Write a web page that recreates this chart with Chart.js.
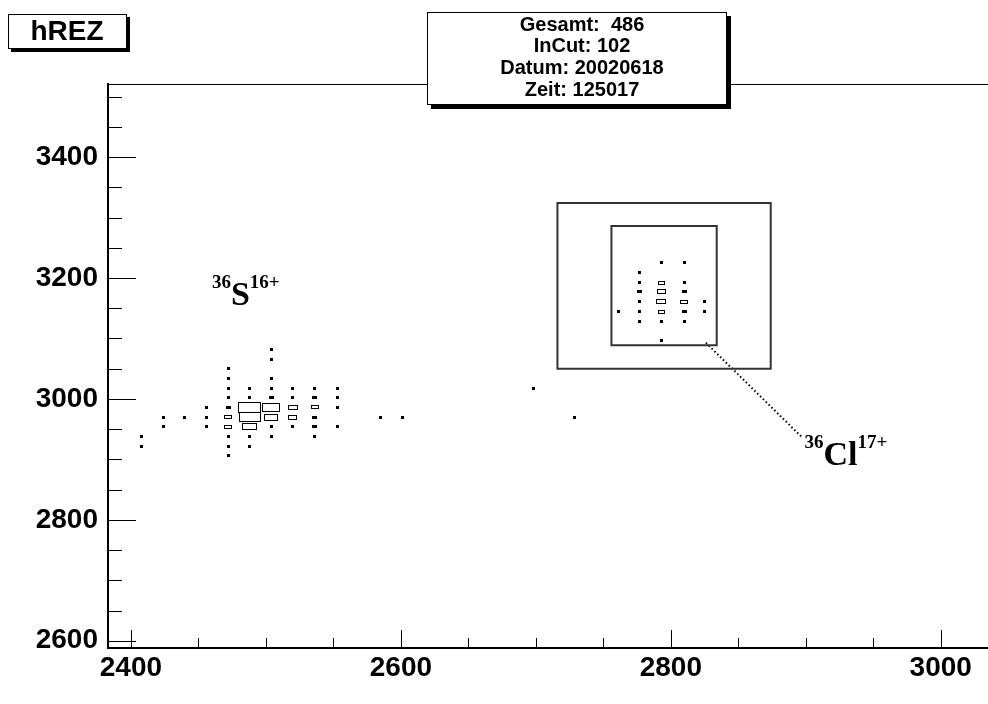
<!DOCTYPE html>
<html>
<head>
<meta charset="utf-8">
<title>hREZ</title>
<script src="https://cdn.jsdelivr.net/npm/chart.js@4.4.1/dist/chart.umd.min.js"></script>
<style>
  html, body { margin: 0; padding: 0; background: #fff; overflow: hidden; }
  canvas { display: block; }
</style>
</head>
<body>
<canvas id="hrez" width="988" height="704"></canvas>
<script>
// Achsen
const xTicks = [2400, 2600, 2800, 3000];
const yTicks = [2600, 2800, 3000, 3200, 3400];

// 36S16+ Cluster (Bin-Mitte x, y, Inhalt)
const sX = [2408, 2408, 2424, 2424, 2440, 2456, 2456, 2456,
  2472, 2472, 2472, 2472, 2472, 2472, 2472, 2472, 2472, 2472,
  2488, 2488, 2488, 2488, 2488, 2488, 2488,
  2504, 2504, 2504, 2504, 2504, 2504, 2504, 2504, 2504,
  2520, 2520, 2520, 2520, 2520,
  2536, 2536, 2536, 2536, 2536, 2536,
  2553, 2553, 2553, 2553];
const sY = [2938, 2922, 2970, 2954, 2970, 2986, 2970, 2954,
  3050, 3034, 3018, 3002, 2986, 2970, 2954, 2938, 2922, 2906,
  3018, 3002, 2986, 2970, 2954, 2938, 2922,
  3082, 3066, 3034, 3018, 3002, 2986, 2970, 2954, 2938,
  3018, 3002, 2986, 2970, 2954,
  3018, 3002, 2986, 2970, 2954, 2938,
  3018, 3002, 2986, 2954];
const sC = [1, 1, 1, 1, 1, 1, 1, 1,
  1, 1, 1, 1, 3, 8, 8, 1, 1, 1,
  1, 1, 80, 72, 35, 1, 1,
  1, 1, 1, 1, 3, 50, 30, 1, 1,
  1, 1, 14, 12, 1,
  1, 3, 8, 3, 3, 1,
  1, 1, 1, 1];

// Einzelereignisse
const strayX = [2585, 2601, 2698, 2729];
const strayY = [2970, 2970, 3018, 2970];
const strayC = [1, 1, 1, 1];

// 36Cl17+ Cluster
const clX = [2793, 2810, 2777, 2777, 2793, 2810, 2777, 2793, 2810,
  2777, 2793, 2810, 2825, 2761, 2777, 2793, 2810, 2825,
  2777, 2793, 2810, 2793];
const clY = [3226, 3226, 3210, 3192, 3192, 3192, 3177, 3177, 3177,
  3161, 3161, 3161, 3161, 3144, 3144, 3144, 3144, 3144,
  3128, 3128, 3128, 3096];
const clC = [1, 1, 1, 1, 6, 1, 3, 11, 3,
  1, 13, 8, 1, 1, 1, 6, 3, 1,
  1, 1, 1, 1];

// Schnitte
const cutOuterX = [2716, 2874];
const cutOuterY = [3050, 3324];
const cutInnerX = [2756, 2834];
const cutInnerY = [3089, 3286];
const leaderX = [2826, 2897];
const leaderY = [3093, 2937];

const statsLines = ['Gesamt:  486', 'InCut: 102', 'Datum: 20020618', 'Zeit: 125017'];

const BIN_W = 16.15;
const BIN_H = 16;
const C_MAX = 80;
const SANS = '"Liberation Sans", Arial, Helvetica, sans-serif';
const SERIF = '"Liberation Serif", "Times New Roman", serif';

function zellen(xs, ys, cs) {
  return xs.map((x, i) => ({ x: x, y: ys[i], c: cs[i] }));
}

function rechteck(xs, ys) {
  return [
    { x: xs[0], y: ys[0] }, { x: xs[1], y: ys[0] },
    { x: xs[1], y: ys[1] }, { x: xs[0], y: ys[1] },
    { x: xs[0], y: ys[0] }
  ];
}

const histDaten = [].concat(zellen(sX, sY, sC), zellen(strayX, strayY, strayC), zellen(clX, clY, clC));

// BOX-Darstellung wie bei ROOT
const boxPlugin = {
  id: 'boxen',
  afterDatasetsDraw(chart) {
    const { ctx, scales: { x, y } } = chart;
    const bw = Math.abs(x.getPixelForValue(BIN_W) - x.getPixelForValue(0));
    const bh = Math.abs(y.getPixelForValue(BIN_H) - y.getPixelForValue(0));
    const meta = chart.getDatasetMeta(0);
    const daten = chart.data.datasets[0].data;
    ctx.save();
    ctx.fillStyle = '#000';
    ctx.strokeStyle = '#000';
    ctx.lineWidth = 1;
    meta.data.forEach((el, i) => {
      const f = Math.sqrt(daten[i].c / C_MAX);
      const W = Math.max(3, Math.round(f * bw) + 1);
      const H = Math.max(3, Math.round(f * bh) + 1);
      const l = Math.round(el.x - W / 2);
      const t = Math.round(el.y - H / 2);
      if (H <= 3 || W <= 5) {
        ctx.fillRect(l, t, W, H);
      } else {
        ctx.strokeRect(l + 0.5, t + 0.5, W - 1, H - 1);
      }
    });
    ctx.restore();
  }
};

// Rahmen, Ticks, Beschriftungen, Titel und Statistik
const padPlugin = {
  id: 'pad',
  afterDraw(chart) {
    const { ctx, chartArea: a, scales: { x, y } } = chart;
    ctx.save();
    ctx.strokeStyle = '#000';
    ctx.lineWidth = 1;
    ctx.beginPath();
    ctx.moveTo(a.left, a.top + 0.5);
    ctx.lineTo(a.right, a.top + 0.5);
    for (let v = Math.ceil(x.min / 50) * 50; v <= x.max; v += 50) {
      const px = Math.round(x.getPixelForValue(v)) + 0.5;
      const len = v % 200 === 0 ? 17 : 9;
      ctx.moveTo(px, a.bottom - 1);
      ctx.lineTo(px, a.bottom - 1 - len);
    }
    for (let v = Math.ceil(y.min / 50) * 50; v <= y.max; v += 50) {
      const py = Math.round(y.getPixelForValue(v)) + 0.5;
      const len = v % 200 === 0 ? 27 : 13;
      ctx.moveTo(a.left + 1, py);
      ctx.lineTo(a.left + 1 + len, py);
    }
    ctx.stroke();

    // Ionen-Beschriftungen
    const ion = (vx, vy, sup, main, sup2) => {
      let px = x.getPixelForValue(vx);
      const py = y.getPixelForValue(vy);
      ctx.fillStyle = '#000';
      ctx.textAlign = 'left';
      ctx.textBaseline = 'alphabetic';
      ctx.font = 'bold 19px ' + SERIF;
      ctx.fillText(sup, px, py - 17);
      px += ctx.measureText(sup).width;
      ctx.font = 'bold 34px ' + SERIF;
      ctx.fillText(main, px, py);
      px += ctx.measureText(main).width;
      ctx.font = 'bold 19px ' + SERIF;
      ctx.fillText(sup2, px, py - 17);
    };
    ion(2460, 3155, '36', 'S', '16+');
    ion(2899, 2890, '36', 'Cl', '17+');

    const kasten = (l, t, w, h, s) => {
      ctx.fillStyle = '#000';
      ctx.fillRect(l + s, t + s, w, h);
      ctx.fillStyle = '#fff';
      ctx.fillRect(l, t, w, h);
      ctx.strokeStyle = '#000';
      ctx.lineWidth = 1;
      ctx.strokeRect(l + 0.5, t + 0.5, w - 1, h - 1);
    };

    kasten(8, 14, 119, 35, 3);
    ctx.fillStyle = '#000';
    ctx.textAlign = 'center';
    ctx.textBaseline = 'middle';
    ctx.font = 'bold 28px ' + SANS;
    ctx.fillText('hREZ', 67, 32);

    kasten(427, 12, 300, 93, 4);
    ctx.fillStyle = '#000';
    ctx.font = 'bold 20px ' + SANS;
    statsLines.forEach((s, i) => {
      ctx.fillText(s, 582, 25 + i * 21.7);
    });
    ctx.restore();
  }
};

const tickFont = { family: SANS, size: 28, weight: 'bold' };

new Chart(document.getElementById('hrez'), {
  type: 'scatter',
  data: {
    datasets: [
      {
        label: 'hREZ',
        data: histDaten,
        pointRadius: 0,
        pointHoverRadius: 0
      },
      {
        label: 'Schnitt aussen',
        data: rechteck(cutOuterX, cutOuterY),
        showLine: true,
        borderColor: '#333',
        borderWidth: 2,
        borderCapStyle: 'square',
        pointRadius: 0,
        tension: 0
      },
      {
        label: 'Schnitt innen',
        data: rechteck(cutInnerX, cutInnerY),
        showLine: true,
        borderColor: '#333',
        borderWidth: 2,
        borderCapStyle: 'square',
        pointRadius: 0,
        tension: 0
      },
      {
        label: 'Hinweis',
        data: leaderX.map((v, i) => ({ x: v, y: leaderY[i] })),
        showLine: true,
        borderColor: '#000',
        borderWidth: 2,
        borderDash: [1.5, 2.5],
        pointRadius: 0,
        tension: 0
      }
    ]
  },
  options: {
    responsive: false,
    animation: false,
    events: [],
    devicePixelRatio: 1,
    layout: { padding: { top: 84, left: 0, right: 0, bottom: 0 } },
    plugins: {
      legend: { display: false },
      tooltip: { enabled: false }
    },
    scales: {
      x: {
        type: 'linear',
        min: 2383,
        max: 3035,
        afterBuildTicks: (s) => { s.ticks = xTicks.map((v) => ({ value: v })); },
        afterFit: (s) => { s.height = 56; },
        grid: { display: false, drawTicks: false },
        border: { display: true, width: 2, color: '#000' },
        ticks: {
          color: '#000',
          font: tickFont,
          padding: 3,
          maxRotation: 0,
          autoSkip: false,
          callback: (v) => String(v)
        }
      },
      y: {
        type: 'linear',
        min: 2588,
        max: 3521,
        afterBuildTicks: (s) => { s.ticks = yTicks.map((v) => ({ value: v })); },
        afterFit: (s) => { s.width = 108; },
        grid: { display: false, drawTicks: false },
        border: { display: true, width: 2, color: '#000' },
        ticks: {
          color: '#000',
          font: tickFont,
          padding: 10,
          autoSkip: false,
          callback: (v) => String(v)
        }
      }
    }
  },
  plugins: [boxPlugin, padPlugin]
});
</script>
</body>
</html>
